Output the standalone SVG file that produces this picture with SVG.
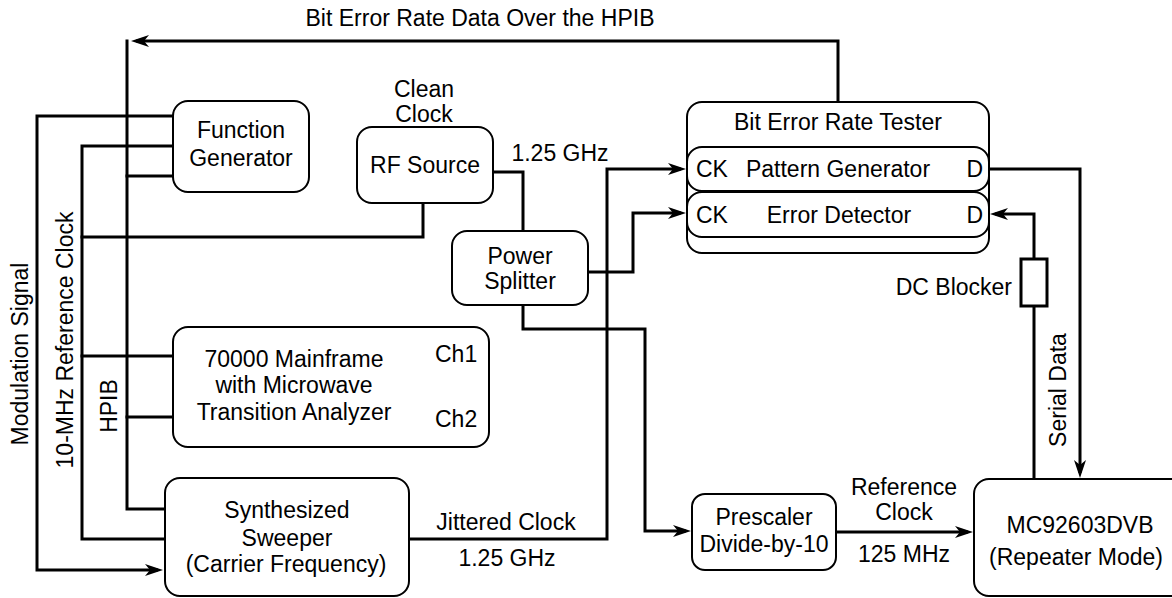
<svg xmlns="http://www.w3.org/2000/svg" width="1172" height="598" viewBox="0 0 1172 598">
  <style>
    .box { fill: #fff; stroke: #000; stroke-width: 2; }
    .wire { fill: none; stroke: #000; stroke-width: 3; stroke-linejoin: miter; stroke-linecap: square; }
    .arr { marker-end: url(#head); stroke-linecap: butt; }
    text { font-family: "Liberation Sans", Arial, Helvetica, sans-serif; font-size: 23px; fill: #000; }
    .c { text-anchor: middle; }
    .e { text-anchor: end; }
  </style>
  <defs>
    <!-- swept-back filled arrowhead; the wire stops 5px short of the tip -->
    <marker id="head" markerUnits="userSpaceOnUse" markerWidth="20" markerHeight="14" refX="13" refY="6" orient="auto">
      <path d="M0,0 L18,6 L0,12 L5,6 z" fill="#000"/>
    </marker>
  </defs>

  <rect width="1172" height="598" fill="#fff"/>

  <!-- signal and bus wiring -->
  <g id="connectors">
    <!-- BER data back over the HPIB -->
    <path class="wire arr" d="M838,102 V41 H136"/>
    <path class="wire" d="M127,41 V509 H165"/>
    <path class="wire" d="M127,176 H173"/>
    <path class="wire" d="M127,417 H173"/>
    <!-- modulation signal -->
    <path class="wire arr" d="M173,116 H37 V570 H158"/>
    <!-- 10 MHz reference clock distribution -->
    <path class="wire" d="M173,146 H82 V539 H165"/>
    <path class="wire" d="M82,237 H423 V203"/>
    <path class="wire" d="M82,356 H173"/>
    <!-- clean clock into splitter -->
    <path class="wire" d="M493,172 H523 V231"/>
    <!-- splitter to error detector clock -->
    <path class="wire arr" d="M588,272 H633 V213 H681"/>
    <!-- jittered clock to pattern generator -->
    <path class="wire arr" d="M409,539 H607 V169 H681"/>
    <!-- splitter to prescaler -->
    <path class="wire arr" d="M523,305 V329 H645 V531 H686"/>
    <!-- reference clock to repeater -->
    <path class="wire arr" d="M836,532 H968"/>
    <!-- serial data out of pattern generator -->
    <path class="wire arr" d="M989,169 H1080 V473"/>
    <!-- serial data back to error detector -->
    <path class="wire arr" d="M1034,479 V214 H995"/>
  </g>

  <g id="dc-blocker">
    <rect x="1021" y="259" width="26" height="47" fill="#fff" stroke="#000" stroke-width="3"/>
    <text class="e" x="1012" y="295">DC Blocker</text>
  </g>

  <g id="function-generator">
    <rect class="box" x="173" y="101" width="136" height="91" rx="15"/>
    <text class="c" x="241" y="138">Function</text>
    <text class="c" x="241" y="166">Generator</text>
  </g>

  <g id="rf-source">
    <rect class="box" x="357" y="127" width="136" height="76" rx="15"/>
    <text class="c" x="425" y="173">RF Source</text>
    <text class="c" x="424" y="97">Clean</text>
    <text class="c" x="424" y="122">Clock</text>
  </g>

  <g id="power-splitter">
    <rect class="box" x="452" y="231" width="136" height="74" rx="15"/>
    <text class="c" x="520" y="264">Power</text>
    <text class="c" x="520" y="289">Splitter</text>
  </g>

  <g id="bert">
    <rect class="box" x="687" y="102" width="302" height="151" rx="15"/>
    <text class="c" x="838" y="130">Bit Error Rate Tester</text>
    <g id="pattern-generator">
      <rect class="box" x="687" y="147" width="302" height="44" rx="15"/>
      <text x="696" y="177">CK</text>
      <text class="c" x="838" y="177">Pattern Generator</text>
      <text class="e" x="983" y="177">D</text>
    </g>
    <g id="error-detector">
      <rect class="box" x="687" y="192" width="302" height="45" rx="15"/>
      <text x="696" y="223">CK</text>
      <text class="c" x="839" y="223">Error Detector</text>
      <text class="e" x="983" y="223">D</text>
    </g>
  </g>

  <g id="mainframe">
    <rect class="box" x="173" y="327" width="316" height="120" rx="15"/>
    <text class="c" x="294" y="367">70000 Mainframe</text>
    <text class="c" x="294" y="393">with Microwave</text>
    <text class="c" x="294" y="420">Transition Analyzer</text>
    <text x="435" y="362">Ch1</text>
    <text x="435" y="427">Ch2</text>
  </g>

  <g id="sweeper">
    <rect class="box" x="165" y="478" width="244" height="118" rx="15"/>
    <text class="c" x="287" y="518">Synthesized</text>
    <text class="c" x="287" y="546">Sweeper</text>
    <text class="c" x="286" y="572">(Carrier Frequency)</text>
  </g>

  <g id="prescaler">
    <rect class="box" x="692" y="494" width="144" height="76" rx="13"/>
    <text class="c" x="764" y="525">Prescaler</text>
    <text class="c" x="764" y="552">Divide-by-10</text>
  </g>

  <g id="repeater">
    <rect class="box" x="974" y="479" width="215" height="117" rx="15"/>
    <text class="c" x="1080" y="533">MC92603DVB</text>
    <text class="c" x="1076" y="565">(Repeater Mode)</text>
  </g>

  <!-- connector labels -->
  <g id="labels">
    <text class="c" x="480" y="26">Bit Error Rate Data Over the HPIB</text>
    <text class="c" x="560" y="161">1.25 GHz</text>
    <text class="c" x="506" y="530">Jittered Clock</text>
    <text class="c" x="507" y="566">1.25 GHz</text>
    <text class="c" x="904" y="495">Reference</text>
    <text class="c" x="904" y="520">Clock</text>
    <text class="c" x="904" y="562">125 MHz</text>
    <text class="c" transform="translate(28,354) rotate(-90)">Modulation Signal</text>
    <text class="c" transform="translate(73,340) rotate(-90)">10-MHz Reference Clock</text>
    <text class="c" transform="translate(117,406) rotate(-90)">HPIB</text>
    <text class="c" transform="translate(1066,390) rotate(-90)">Serial Data</text>
  </g>
</svg>
